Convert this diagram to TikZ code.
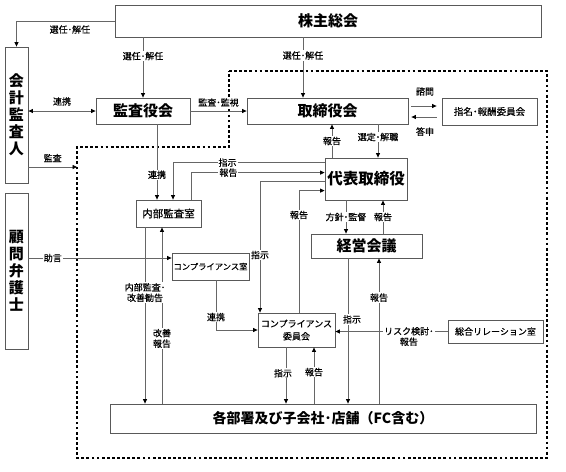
\documentclass[tikz,border=0pt]{standalone}
\usepackage{fontspec}
\setmainfont{Noto Sans CJK JP}
\newfontfamily\lblfont{Noto Sans CJK JP}[FakeBold=0.5]
\usetikzlibrary{arrows.meta,calc}
\begin{document}
\begin{tikzpicture}[x=1pt,y=-1pt,
  box/.style={draw=black!65, line width=0.8pt, inner sep=0pt, align=center, fill=white},
  big/.style={font=\bfseries\fontsize{15}{17}\selectfont},
  ln/.style={draw=black!60, line width=0.8pt},
  arr/.style={ln, -{Triangle[length=4.5pt,width=4pt,color=black]}},
  darr/.style={ln, {Triangle[length=4.5pt,width=4pt,color=black]}-{Triangle[length=4.5pt,width=4pt,color=black]}},
  lbl/.style={fill=white, inner sep=1pt, font=\lblfont\fontsize{9}{10.5}\selectfont, align=center},
  dotb/.style={draw=black, line width=2.8pt, dash pattern=on 2.8pt off 2.3pt}
]
\useasboundingbox (0,0) rectangle (566,472);
% dotted boundary
\draw[dotb] (229,71) -- (547,71) -- (547,458) -- (77,458) -- (77,147) -- (229,147) -- cycle;
% boxes
\node[box, big, minimum width=426pt, minimum height=32pt] (kabu) at (328,21) {株主総会};
\node[box, big, minimum width=23pt, minimum height=136pt] (kaikei) at (16.5,115) {会\\計\\監\\査\\人};
\node[box, big, minimum width=23pt, minimum height=156pt] (komon) at (16.5,271) {顧\\問\\弁\\護\\士};
\node[box, big, minimum width=94pt, minimum height=26pt] (kansa) at (143,111) {監査役会};
\node[box, big, minimum width=161pt, minimum height=26pt] (tori) at (327.5,111) {取締役会};
\node[box, font=\lblfont\fontsize{9.5}{11}\selectfont, minimum width=95pt, minimum height=27pt] (shimei) at (489.5,111.5) {指名･報酬委員会};
\node[box, big, font=\bfseries\fontsize{15.5}{17}\selectfont, minimum width=82pt, minimum height=42pt] (daihyo) at (366,179) {代表取締役};
\node[box, font=\lblfont\fontsize{10.5}{12}\selectfont, minimum width=65pt, minimum height=27pt] (naibu) at (168.5,213.5) {内部監査室};
\node[box, font=\lblfont\fontsize{8.3}{10}\selectfont, minimum width=77pt, minimum height=27pt] (compshitsu) at (210.5,266.5) {コンプライアンス室};
\node[box, big, minimum width=111pt, minimum height=24pt] (keiei) at (366.5,246) {経営会議};
\node[box, font=\lblfont\fontsize{9}{12.5}\selectfont, minimum width=77pt, minimum height=34pt] (compiin) at (296.5,330) {コンプライアンス\\委員会};
\node[box, font=\lblfont\fontsize{9}{11}\selectfont, minimum width=95pt, minimum height=23pt] (sogo) at (495.5,331.5) {総合リレーション室};
\node[box, font=\bfseries\fontsize{14}{16}\selectfont, minimum width=426pt, minimum height=29pt] (kakubu) at (323,418.5) {各部署及び子会社･店舗（FC含む）};
% coordinates
\coordinate (t3) at ($(tori.north)+(-24.5,0)$);
\coordinate (bL) at (77,167);
\coordinate (p7) at ($(kansa.south)+(14,0)$);
\coordinate (p8s) at ($(daihyo.north west)+(0,5)$);
\coordinate (p8e) at ($(naibu.north)+(4.5,0)$);
\coordinate (p9s) at ($(naibu.north)+(22.5,0)$);
\coordinate (p9e) at ($(daihyo.north west)+(0,15)$);
\coordinate (p10s) at ($(daihyo.north west)+(0,24)$);
\coordinate (p10e) at ($(compiin.north)+(-36.5,0)$);
\coordinate (p11s) at ($(compiin.north)+(2.5,0)$);
\coordinate (p11e) at ($(daihyo.north west)+(0,33)$);
\coordinate (p12) at ($(daihyo.south)+(-20,0)$);
\coordinate (p13) at ($(daihyo.south)+(17,0)$);
\coordinate (p14) at ($(daihyo.north)+(-34,0)$);
\coordinate (p15) at ($(daihyo.north)+(12,0)$);
\coordinate (p16) at ($(tori.east)+(0,-5)$);
\coordinate (p17) at ($(tori.east)+(0,6)$);
\coordinate (p18) at ($(compshitsu.west)+(0,-8.5)$);
\coordinate (p19) at ($(naibu.south)+(-23.5,0)$);
\coordinate (p20) at ($(naibu.south)+(-6.5,0)$);
\coordinate (p21) at ($(compshitsu.south)+(5.5,0)$);
\coordinate (p22) at ($(compiin.south)+(-10.5,0)$);
\coordinate (p23) at ($(compiin.south)+(17.5,0)$);
\coordinate (p24) at ($(keiei.south)+(-18.5,0)$);
\coordinate (p25) at ($(keiei.south)+(12.5,0)$);
% connectors
\draw[arr] (kabu.west) -| node[lbl, pos=0.228, below=3pt]{選任･解任} (kaikei.north);
\draw[arr] (kansa.north |- kabu.south) -- node[lbl, pos=0.31]{選任･解任} (kansa.north);
\draw[arr] (t3 |- kabu.south) -- node[lbl, pos=0.3]{選任･解任} (t3);
\draw[darr] (kaikei.east |- kansa.west) -- node[lbl, above=4pt]{連携} (kansa.west);
\draw[arr] (kansa.east) -- node[lbl, above=3pt]{監査･監視} (tori.west);
\draw[arr] (kaikei.east |- bL) -- node[lbl, above=3.5pt]{監査} (bL);
\draw[arr] (p7) -- node[lbl, pos=0.67]{連携} (p7 |- naibu.north);
\draw[arr] (p8s) -| node[lbl, pos=0.32]{指示} (p8e);
\draw[arr] (p9s) |- node[lbl, pos=0.64]{報告} (p9e);
\draw[arr] (p10s) -| node[lbl, pos=0.78]{指示} (p10e);
\draw[arr] (p11s) |- node[lbl, pos=0.40]{報告} (p11e);
\draw[arr] (p12) -- node[lbl]{方針･監督} (p12 |- keiei.north);
\draw[arr] (p13 |- keiei.north) -- node[lbl]{報告} (p13);
\draw[arr] (p14) -- node[lbl]{報告} (p14 |- tori.south);
\draw[arr] (p15 |- tori.south) -- node[lbl, pos=0.38]{選定･解職} (p15);
\draw[arr, shorten <=3pt, shorten >=5pt] (p16) -- node[lbl, above=9pt]{諮問} (p16 -| shimei.west);
\draw[arr, shorten <=5pt, shorten >=3pt] (p17 -| shimei.west) -- node[lbl, below=9pt]{答申} (p17);
\draw[arr] (komon.east |- p18) -- node[lbl, pos=0.17]{助言} (p18);
\draw[arr] (p20 |- kakubu.north) -- node[lbl, pos=0.37]{改善\\報告} (p20);
\draw[arr] (p19) -- node[lbl, pos=0.37]{内部監査･\\改善勧告} (p19 |- kakubu.north);
\draw[arr] (p21) |- node[lbl, pos=0.37]{連携} (compiin.west);
\draw[arr] (p22) -- node[lbl, pos=0.46, xshift=-3pt]{指示} (p22 |- kakubu.north);
\draw[arr] (p23 |- kakubu.north) -- node[lbl, pos=0.56]{報告} (p23);
\draw[arr] (p25 |- kakubu.north) -- node[lbl, pos=0.73]{報告} (p25);
\draw[arr] (p24) -- node[lbl, pos=0.42, xshift=4pt]{指示} (p24 |- kakubu.north);
\draw[arr] (sogo.west) -- node[lbl, pos=0.345, yshift=-5pt]{リスク検討･\\報告} (sogo.west -| compiin.east);
\end{tikzpicture}
\end{document}
